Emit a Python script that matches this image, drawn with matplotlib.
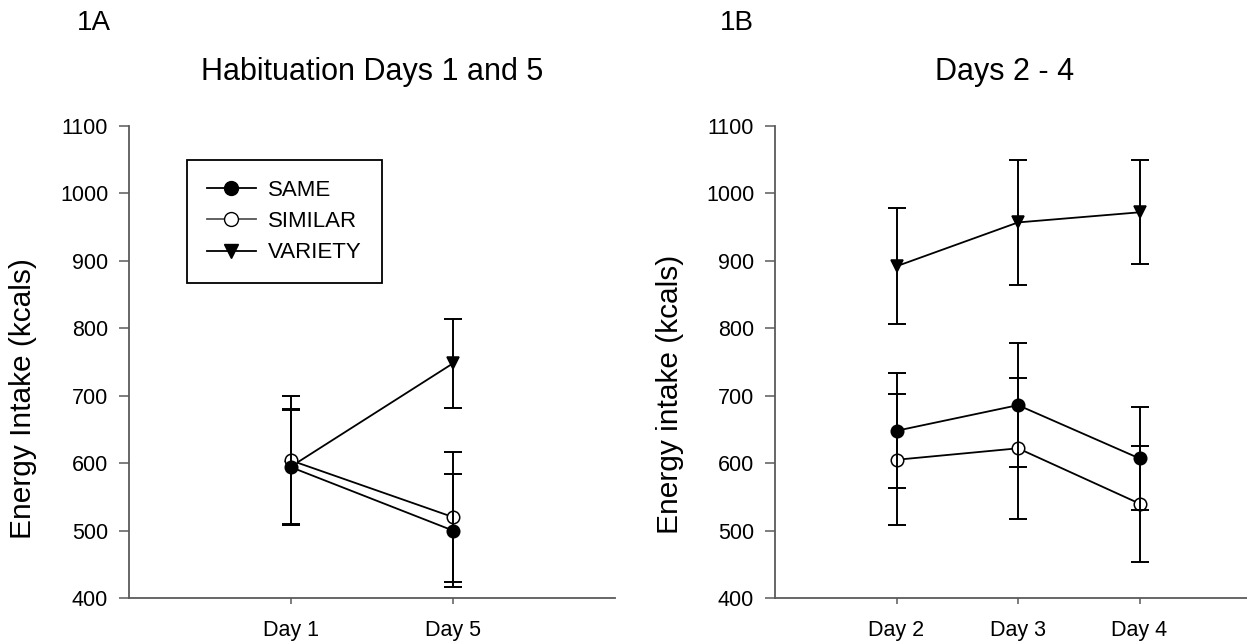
import matplotlib
matplotlib.use('Agg')
import matplotlib.pyplot as plt
from matplotlib.lines import Line2D
import numpy as np

plt.rcParams['font.family'] = ['Liberation Sans', 'DejaVu Sans']

# Panel 1A: habituation days
days_a = ['Day 1', 'Day 5']
same_a = [594, 500]
same_a_err = [85, 84]
similar_a = [604, 520]
similar_a_err = [96, 96]
variety_a = [595, 748]
variety_a_err = [85, 66]

# Panel 1B: days 2 - 4
days_b = ['Day 2', 'Day 3', 'Day 4']
same_b = [648, 686, 607]
same_b_err = [85, 92, 77]
similar_b = [605, 622, 540]
similar_b_err = [97, 105, 86]
variety_b = [892, 957, 972]
variety_b_err = [86, 93, 77]

yticks = [400, 500, 600, 700, 800, 900, 1000, 1100]

W, H = 1247, 644
fig = plt.figure(figsize=(W / 100, H / 100), dpi=100)

ax_a = fig.add_axes([129 / W, (H - 598) / H, 486 / W, 472 / H])
ax_b = fig.add_axes([775 / W, (H - 598) / H, 472 / W, 472 / H])

spine_col = '#5a5a5a'


def draw_panel(ax, days, series, xmax):
    x = np.arange(1, len(days) + 1)
    # series drawn in order; later ones on top
    for vals, errs, marker, face, z in series:
        ax.errorbar(x, vals, yerr=errs, fmt='none', ecolor='black',
                    elinewidth=1.4, capsize=6.6, capthick=1.4, zorder=z)
        ax.plot(x, vals, color='black', lw=1.3, marker=marker, ms=9,
                mfc=face, mec='black', mew=1.1, zorder=z + 0.5)
    ax.set_xlim(0, xmax)
    ax.set_ylim(400, 1100)
    ax.set_xticks(x)
    ax.set_xticklabels(days)
    ax.set_yticks(yticks)
    for s in ['top', 'right']:
        ax.spines[s].set_visible(False)
    for s in ['left', 'bottom']:
        ax.spines[s].set_color(spine_col)
        ax.spines[s].set_linewidth(1.3)
    ax.tick_params(axis='y', direction='out', length=7, width=1.1,
                   color=spine_col, labelsize=15.5, pad=8)
    ax.tick_params(axis='x', direction='out', length=4.5, width=1.1,
                   color=spine_col, labelsize=15.5, pad=11)


draw_panel(ax_a, days_a, [
    (variety_a, variety_a_err, 'v', 'black', 2),
    (similar_a, similar_a_err, 'o', 'white', 3),
    (same_a, same_a_err, 'o', 'black', 4),
], 3)

draw_panel(ax_b, days_b, [
    (variety_b, variety_b_err, 'v', 'black', 2),
    (similar_b, similar_b_err, 'o', 'white', 3),
    (same_b, same_b_err, 'o', 'black', 4),
], 472 / 121.5)

# legend only in panel A
handles = [
    Line2D([], [], color='black', lw=1.3, marker='o', ms=10, mfc='black', mec='black'),
    Line2D([], [], color='#555555', lw=1.3, marker='o', ms=10, mfc='white', mec='black'),
    Line2D([], [], color='black', lw=1.3, marker='v', ms=10, mfc='black', mec='black'),
]
leg = ax_a.legend(handles, ['SAME', 'SIMILAR', 'VARIETY'], loc='upper left',
                  bbox_to_anchor=(187 / W, 1 - 160 / H), bbox_transform=fig.transFigure,
                  borderaxespad=0, fontsize=16, fancybox=False, framealpha=1,
                  edgecolor='black', handlelength=2.2, handletextpad=0.55,
                  labelspacing=0.46, borderpad=0.9)
leg.get_frame().set_linewidth(1.3)

# titles and panel letters
fig.text(77 / W, 1 - 30 / H, '1A', fontsize=20, ha='left', va='baseline')
fig.text(720 / W, 1 - 30 / H, '1B', fontsize=20, ha='left', va='baseline')
fig.text(372 / W, 1 - 80 / H, 'Habituation Days 1 and 5', fontsize=22,
         ha='center', va='baseline')
fig.text(1005 / W, 1 - 80 / H, 'Days 2 - 4', fontsize=22,
         ha='center', va='baseline')

# y labels
fig.text(23 / W, 1 - 399 / H, 'Energy Intake (kcals)', fontsize=21.5,
         rotation=90, ha='center', va='center')
fig.text(670 / W, 1 - 394 / H, 'Energy intake (kcals)', fontsize=21.5,
         rotation=90, ha='center', va='center')

fig.savefig('out.png', dpi=100)
